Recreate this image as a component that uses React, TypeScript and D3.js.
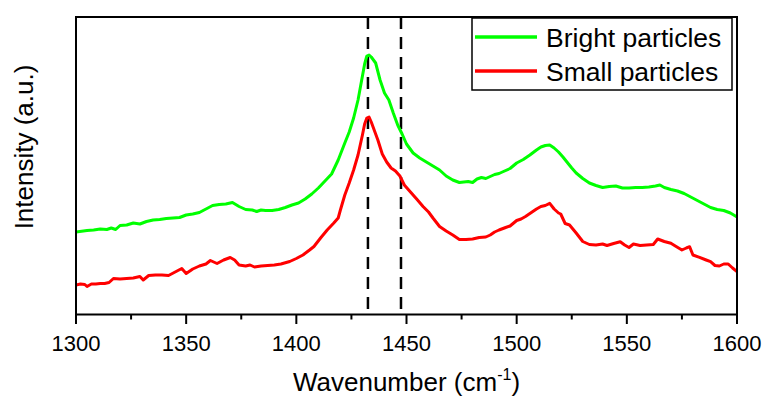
import React from "react";
import * as d3 from "d3";

const brightX = [1300,1305,1308,1311,1314,1316,1318,1320,1323,1326,1329,1332,1335,1338,1341,1344,1347,1350,1353,1356,1359,1362,1365,1368,1371,1374,1377,1380,1382,1384,1386,1389,1392,1395,1398,1401,1404,1407,1410,1413,1416,1419,1422,1424,1426,1428,1430,1431,1432,1433,1434,1436,1438,1440,1442,1444,1446,1448,1450,1453,1456,1459,1462,1465,1468,1471,1474,1476,1478,1480,1482,1484,1486,1488,1490,1492,1494,1497,1500,1503,1506,1509,1511,1513,1515,1517,1519,1521,1523,1525,1527,1530,1533,1536,1539,1542,1545,1548,1551,1554,1557,1560,1563,1565,1567,1570,1573,1576,1579,1582,1585,1588,1591,1594,1597,1600];
const brightY = [82.5,84,84.5,85.5,85,86.5,85,89,89.5,91.5,90.5,93,94.5,95,96,96.5,97,99.5,100.5,102,105.5,109,110,110.5,112,108,105,104.5,103,104.5,104,104,105,107,109.5,111.5,115.5,120.5,126.5,133.5,140.5,154.5,171.5,182.5,196.5,214.5,238.5,250.5,258.5,259.5,257.5,251.5,234.5,221.5,214.5,201.5,189.5,180.5,170.5,161.5,156.5,152.5,148.5,144.5,138.5,134.5,132,132.5,133,132,135.5,137,136,138,140,141,143,146,151.5,155,159.5,164.5,167.5,169,169.5,166.5,162.5,157.5,152,146.5,141.5,136,131.5,129,127,128,128.5,126.5,126.5,127,127,127.5,128.5,129.5,127,125,123.5,121,117.5,114,110.5,107,105,104,101.5,97.5];

const smallX = [1300,1302,1304,1305,1307,1309,1311,1313,1315,1317,1320,1323,1326,1329,1330.5,1333,1336,1339,1342,1345,1348,1350,1353,1356,1359,1361,1364,1367,1370,1372,1374,1377,1379,1381,1384,1387,1390,1393,1397,1400,1403,1406,1408,1411,1414,1417,1419,1420,1422,1424,1426,1428,1430,1431,1432,1433,1434,1435,1437,1439,1441,1443,1445,1447,1449,1451,1453,1455,1457.5,1460,1462,1465,1468,1471,1474,1477,1480,1483,1486,1488,1490,1492,1495,1497,1500,1502,1504,1507,1509,1511,1513,1515,1517,1519,1520,1522,1524,1527,1530,1533,1536,1539,1541,1544,1547,1549,1551,1553,1556,1559,1562,1564,1567,1570,1572,1575,1577,1578.5,1580,1583,1586,1588,1590,1592,1594,1596,1598,1600];
const smallY = [29.5,30.5,30,28,30.5,30.5,31,31,32,36,35.5,36,36.5,38,34.5,39,39.5,39.5,39,42.5,46,41,45.5,48.5,50.5,54,51,54.5,57,54.5,49.5,48.5,49.5,47.5,48.5,49,49.5,50.5,53,56,59.5,64.5,68,76.5,84.5,91.5,96.5,104.5,119.5,131.5,144.5,159.5,179.5,190.5,196.5,197.5,192.5,186.5,174.5,160.5,152.5,146.5,143.5,138.5,129.5,124.5,119.5,114.5,108,102.5,96.5,88,83.5,79.5,75,75,75.5,77,77.5,79.5,82.5,84.5,87,88.5,94,95.5,98,102.5,105.5,108,109,111.2,105.5,101.5,100.5,91,89.5,81.5,73,70,69.5,70.5,69,71,72.8,69.5,67,70.5,69,69.5,70,75.5,73,71.2,68.5,64.5,66.5,67.8,59.5,57.2,54.5,52.8,49,48.5,50.5,50.5,46.5,42.8];

const xTicks = [1300, 1350, 1400, 1450, 1500, 1550, 1600];
const xMinorTicks = [1325, 1375, 1425, 1475, 1525, 1575];
const markerLines = [1432.5, 1447.5];
const seriesNames = ["Bright particles", "Small particles"];
const seriesColors = ["#00ff00", "#ff0000"];

const FONT = "'Liberation Sans', Arial, sans-serif";

export default function App() {
  const W = 763, H = 398;
  const left = 76, right = 737, top = 17, bottom = 314.5;
  const x = d3.scaleLinear().domain([1300, 1600]).range([left, right]);
  const y = d3.scaleLinear().domain([0, 297.5]).range([bottom, top]);

  const series = [
    brightX.map((v, i) => [v, brightY[i]] as [number, number]),
    smallX.map((v, i) => [v, smallY[i]] as [number, number]),
  ];
  const line = d3.line<[number, number]>().x(d => x(d[0])).y(d => y(d[1]));

  return (
    <svg width={W} height={H} style={{ position: "absolute", left: 0, top: 0, background: "#fff" }} fontFamily={FONT}>
      <rect x={0} y={0} width={W} height={H} fill="#fff" />
      <defs>
        <clipPath id="plotclip">
          <rect x={left} y={top} width={right - left} height={bottom - top} />
        </clipPath>
      </defs>
      {markerLines.map(m => (
        <line key={m} x1={x(m)} x2={x(m)} y1={top} y2={bottom} stroke="#000" strokeWidth={2.5} strokeDasharray="12,8" />
      ))}
      <g clipPath="url(#plotclip)">
        {series.map((s, i) => (
          <path key={i} d={line(s) || ""} fill="none" stroke={seriesColors[i]} strokeWidth={3} strokeLinejoin="round" strokeLinecap="round" />
        ))}
      </g>
      <rect x={left} y={top} width={right - left} height={bottom - top} fill="none" stroke="#000" strokeWidth={2} />
      {xTicks.map(t => (
        <g key={t}>
          <line x1={x(t)} x2={x(t)} y1={bottom} y2={bottom + 9.5} stroke="#000" strokeWidth={2} />
          <text x={x(t)} y={351} textAnchor="middle" fontSize={22} fill="#000">{t}</text>
        </g>
      ))}
      {xMinorTicks.map(t => (
        <line key={t} x1={x(t)} x2={x(t)} y1={bottom} y2={bottom + 5} stroke="#000" strokeWidth={2} />
      ))}
      <text x={(left + right) / 2} y={391} textAnchor="middle" fontSize={26} fill="#000">
        Wavenumber (cm<tspan fontSize={16} dy={-11}>-1</tspan><tspan dy={11}>)</tspan>
      </text>
      <text transform={`translate(33,147) rotate(-90)`} textAnchor="middle" fontSize={26} fill="#000">Intensity (a.u.)</text>
      <rect x={472} y={18} width={260} height={72} fill="#fff" stroke="#000" strokeWidth={1.5} />
      {seriesNames.map((n, i) => (
        <g key={n}>
          <line x1={475} x2={537} y1={37 + i * 34} y2={37 + i * 34} stroke={seriesColors[i]} strokeWidth={3.5} />
          <text x={546} y={46.5 + i * 34} fontSize={26.5} fill="#000">{n}</text>
        </g>
      ))}
    </svg>
  );
}
